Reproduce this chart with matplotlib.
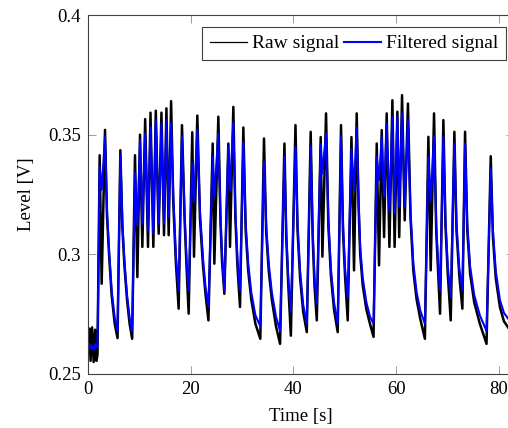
import matplotlib.pyplot as plt

# key points: time [s], filtered level [V], raw level [V]
time_s = [
    0.00, 0.25, 0.50, 0.80, 1.10, 1.40, 1.65, 1.85,
    2.27, 2.66, 3.31, 3.70, 4.10, 4.60, 5.20, 5.75,
    6.30, 6.70, 7.10, 7.60, 8.10, 8.60,
    9.15, 9.61, 10.13, 10.58, 11.13, 11.68, 12.17, 12.72, 13.20, 13.76,
    14.30, 14.80, 15.27, 15.71, 16.18, 16.60, 17.10, 17.65,
    18.30, 18.80, 19.20, 19.60, 20.30, 20.64, 21.29, 21.80, 22.40, 22.90, 23.45,
    24.28, 24.60, 25.38, 25.80, 26.10, 26.55, 27.33, 27.65, 28.30, 28.70, 29.10, 29.60,
    30.25, 30.70, 31.20, 31.80, 32.60, 33.55,
    34.27, 34.70, 35.20, 35.80, 36.60, 37.40,
    38.25, 38.60, 39.00, 39.50, 40.40, 40.80, 41.30, 41.90, 42.60,
    43.36, 43.75, 44.10, 44.55, 45.31, 45.64, 46.35, 46.80, 47.30, 47.90, 48.62,
    49.27, 49.65, 50.05, 50.57, 51.30, 51.80, 52.32, 52.70, 53.00, 53.50, 54.20, 54.90, 55.60,
    56.22, 56.67, 57.19, 57.65, 58.16, 58.69, 59.27, 59.70, 60.24, 60.60, 61.15, 61.67,
    62.30, 62.80, 63.35, 64.00, 64.70, 65.60,
    66.28, 66.73, 67.38, 67.80, 68.15, 68.55, 69.20, 69.60, 70.05, 70.63,
    71.34, 71.75, 72.30, 72.90, 73.42, 73.85, 74.40, 75.20, 76.30, 77.60,
    78.42, 78.85, 79.40, 80.20, 81.00, 82.90,
]
filtered_v = [
    0.2615, 0.2625, 0.2605, 0.2620, 0.2600, 0.2625, 0.2610, 0.2615,
    0.3365, 0.3270, 0.3490, 0.3180, 0.3020, 0.2850, 0.2735, 0.2680,
    0.3414, 0.3130, 0.2970, 0.2830, 0.2735, 0.2680,
    0.3340, 0.3120, 0.3477, 0.3128, 0.3505, 0.3100, 0.3533, 0.3086, 0.3561, 0.3128,
    0.3547, 0.3128, 0.3561, 0.3156, 0.3547, 0.3250, 0.3000, 0.2849,
    0.3491, 0.3180, 0.2970, 0.2849, 0.3380, 0.3220, 0.3520, 0.3180, 0.2980, 0.2860, 0.2780,
    0.3407, 0.3240, 0.3505, 0.3160, 0.3000, 0.2849, 0.3449, 0.3268, 0.3550, 0.3180, 0.2980, 0.2849,
    0.3470, 0.3130, 0.2960, 0.2840, 0.2745, 0.2700,
    0.3386, 0.3120, 0.2960, 0.2840, 0.2740, 0.2680,
    0.3407, 0.3100, 0.2900, 0.2760, 0.3450, 0.3130, 0.2930, 0.2790, 0.2710,
    0.3449, 0.3100, 0.2900, 0.2793, 0.3460, 0.3338, 0.3505, 0.3150, 0.2940, 0.2800, 0.2710,
    0.3491, 0.3130, 0.2940, 0.2820, 0.3440, 0.3268, 0.3530, 0.3220, 0.3030, 0.2900, 0.2800, 0.2740, 0.2710,
    0.3407, 0.3310, 0.3491, 0.3240, 0.3547, 0.3180, 0.3575, 0.3170, 0.3575, 0.3200, 0.3589, 0.3200,
    0.3560, 0.3180, 0.2961, 0.2840, 0.2765, 0.2710,
    0.3407, 0.3226, 0.3491, 0.3130, 0.2970, 0.2849, 0.3491, 0.3150, 0.2950, 0.2821,
    0.3463, 0.3130, 0.2940, 0.2849, 0.3463, 0.3130, 0.2950, 0.2830, 0.2745, 0.2680,
    0.3358, 0.3100, 0.2930, 0.2810, 0.2755, 0.2700,
]
raw_v = [
    0.2600, 0.2690, 0.2555, 0.2695, 0.2550, 0.2685, 0.2555, 0.2580,
    0.3414, 0.2877, 0.3520, 0.3160, 0.3000, 0.2830, 0.2710, 0.2650,
    0.3435, 0.3110, 0.2950, 0.2810, 0.2710, 0.2647,
    0.3414, 0.2905, 0.3500, 0.3031, 0.3565, 0.3031, 0.3592, 0.3031, 0.3600, 0.3086,
    0.3592, 0.3080, 0.3610, 0.3080, 0.3640, 0.3220, 0.2970, 0.2773,
    0.3540, 0.3150, 0.2940, 0.2752, 0.3510, 0.2990, 0.3580, 0.3150, 0.2950, 0.2830, 0.2724,
    0.3463, 0.2961, 0.3575, 0.3130, 0.2970, 0.2835, 0.3463, 0.3031, 0.3616, 0.3150, 0.2950, 0.2780,
    0.3530, 0.3100, 0.2930, 0.2810, 0.2710, 0.2647,
    0.3484, 0.3090, 0.2930, 0.2810, 0.2700, 0.2626,
    0.3463, 0.3070, 0.2870, 0.2660, 0.3540, 0.3100, 0.2900, 0.2760, 0.2675,
    0.3512, 0.3070, 0.2870, 0.2724, 0.3490, 0.2990, 0.3589, 0.3120, 0.2910, 0.2770, 0.2675,
    0.3540, 0.3100, 0.2910, 0.2724, 0.3490, 0.2933, 0.3589, 0.3190, 0.3000, 0.2870, 0.2770, 0.2710, 0.2655,
    0.3463, 0.2954, 0.3519, 0.3072, 0.3589, 0.3031, 0.3644, 0.3031, 0.3596, 0.3072, 0.3665, 0.3142,
    0.3630, 0.3150, 0.2930, 0.2810, 0.2730, 0.2647,
    0.3491, 0.2933, 0.3589, 0.3100, 0.2940, 0.2752, 0.3561, 0.3120, 0.2920, 0.2724,
    0.3512, 0.3100, 0.2910, 0.2773, 0.3512, 0.3100, 0.2920, 0.2800, 0.2710, 0.2626,
    0.3410, 0.3070, 0.2900, 0.2780, 0.2720, 0.2660,
]

x_ticks = [0, 20, 40, 60, 80]
y_ticks = [0.25, 0.3, 0.35, 0.4]
y_tick_labels = ["0.25", "0.3", "0.35", "0.4"]

plt.rcParams["font.family"] = ["Liberation Serif", "DejaVu Serif"]
plt.rcParams["font.size"] = 13.5

fig = plt.figure(figsize=(5.08, 4.28), dpi=100)
# axes run a little past the right edge of the picture, as in the reference
ax = fig.add_axes([88 / 508, 54 / 428, 426 / 508, 359 / 428])

ax.plot(time_s, raw_v, color="black", lw=1.8, label="Raw signal")
ax.plot(time_s, filtered_v, color="blue", lw=1.5, label="Filtered signal")

ax.set_xlim(0, 82.95)
ax.set_ylim(0.25, 0.4)
ax.set_xticks(x_ticks)
ax.set_xticklabels([str(x) for x in x_ticks])
ax.set_yticks(y_ticks)
ax.set_yticklabels(y_tick_labels)
ax.tick_params(direction="in", length=6, width=0.6, color="#8c8c8c",
               top=True, right=True, labelcolor="black", pad=5)
for sp in ax.spines.values():
    sp.set_color("#404040")
    sp.set_linewidth(0.8)

ax.set_xlabel("Time [s]")
ax.set_ylabel("Level [V]")
ax.xaxis.set_label_coords(0.5, -0.095)
ax.yaxis.set_label_coords(-0.125, 0.5)

leg = ax.legend(loc="upper right", bbox_to_anchor=(506 / 508, 1 - 27 / 428),
                bbox_transform=fig.transFigure, ncol=2, frameon=True,
                fancybox=False, framealpha=1, edgecolor="#404040",
                fontsize=14, handlelength=1.9, handletextpad=0.25,
                columnspacing=0.25, borderpad=0.4, borderaxespad=0)
leg.get_frame().set_linewidth(0.8)
leg.get_lines()[0].set_linewidth(0.9)
leg.get_lines()[1].set_linewidth(1.5)

fig.savefig("out.png", dpi=100)
